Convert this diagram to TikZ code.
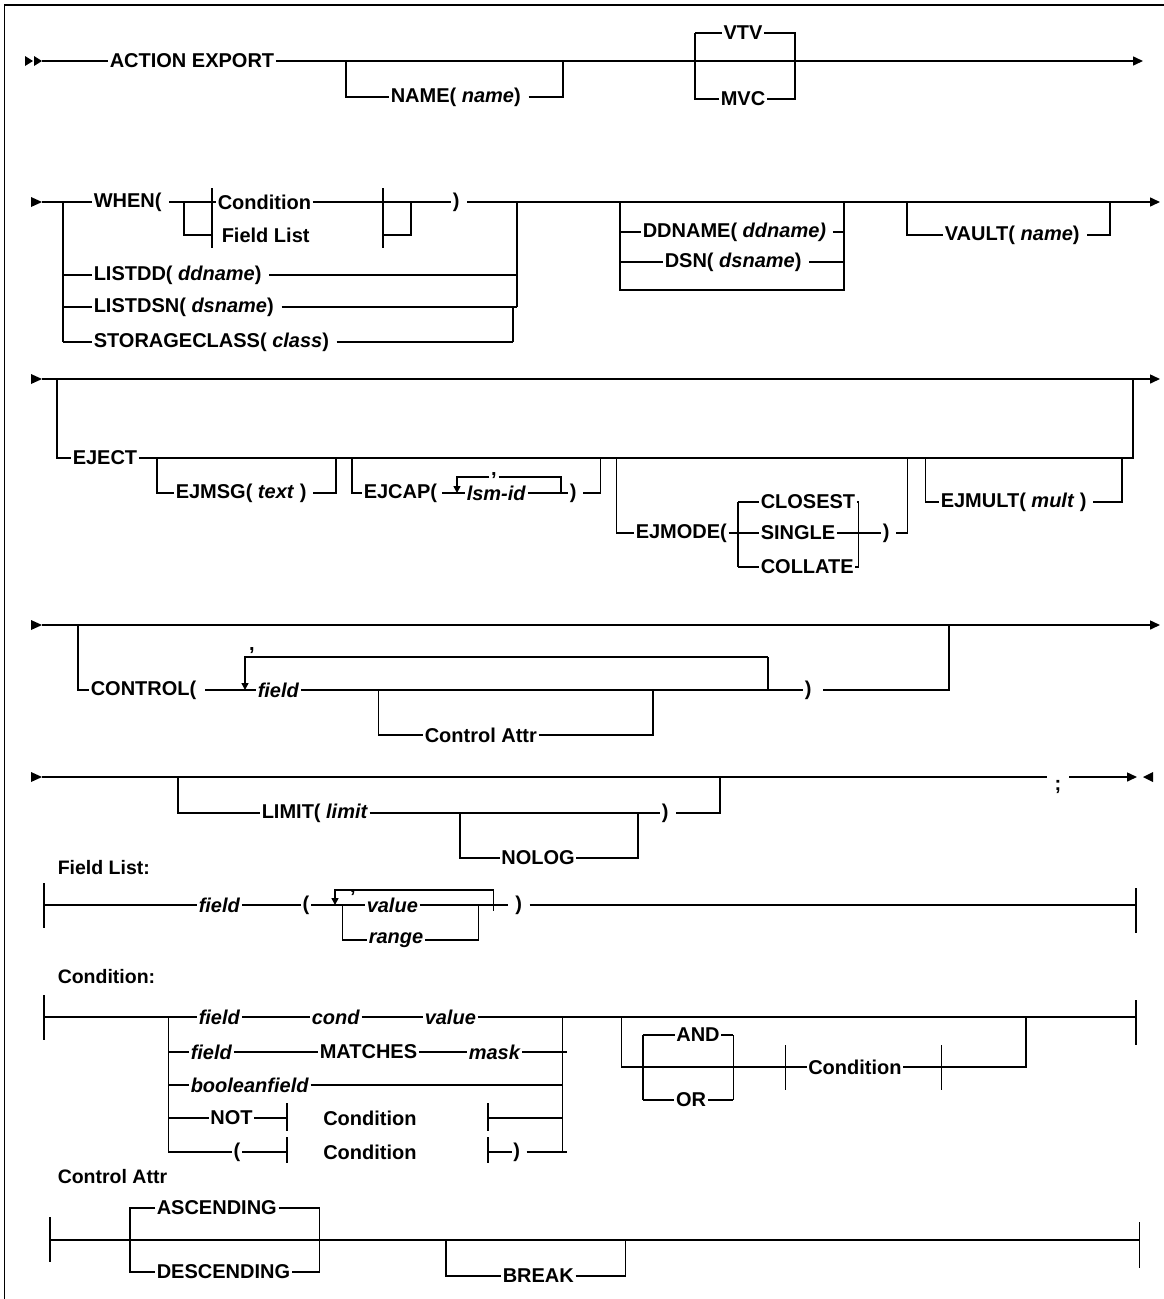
\documentclass[tikz,border=0pt]{standalone}
\usepackage{fontspec}
\setmainfont{Liberation Sans}
\usetikzlibrary{arrows.meta}
\newcommand\kwf{\fontsize{20}{23}\selectfont\bfseries}
\newcommand\labf{\fontsize{19.5}{23}\selectfont\bfseries}
\begin{document}
\begin{tikzpicture}[x=1pt,y=-1pt,line width=1.5pt,
  kw/.style={font=\kwf,inner xsep=1pt,inner ysep=0pt},
  kww/.style={kw,anchor=west},
  lab/.style={font=\labf,anchor=west,inner sep=0pt},
  tip/.style={-{Triangle[length=10pt,width=9pt]}},
  dtip/.style={-{Triangle[length=7pt,width=7pt]}}]
\useasboundingbox (0,0) rectangle (1164,1299);
\draw (4.6,1299) -- (4.6,5) -- (1164,5);

% ---------- Row 1 ----------
\fill (25,56) -- (33,61) -- (25,66) -- cycle;
\fill (34,56) -- (42,61) -- (34,66) -- cycle;
\coordinate (s1) at (42,61);
\coordinate (e1) at (1143,61);
\node[kww] (ae) at (108,61) {ACTION EXPORT};
\draw (s1) -- (ae.west);
\draw[tip] (ae.east) -- (e1);
\coordinate (n1) at (346,61); \coordinate (n2) at (563,61);
\node[kww] (nm) at (389,97) {NAME( \textit{name})};
\draw (n1) |- (nm.west);
\draw ([xshift=6pt]nm.east) -| (n2);
\coordinate (v1) at (695,33); \coordinate (v2) at (795,33);
\coordinate (v3) at (695,99); \coordinate (v4) at (795,99);
\node[kw] (vtv) at (743,33) {VTV};
\node[kw] (mvc) at (743,99) {MVC};
\draw (v1) -- (vtv.west) (vtv.east) -- (v2) -- (v4) -- (mvc.east) (mvc.west) -- (v3) -- (v1);

% ---------- Row 2 ----------
\fill (31,197) -- (42,202) -- (31,207) -- cycle;
\coordinate (s2) at (42,202);
\coordinate (e2) at (1160,202);
\node[kww] (when) at (92,202) {WHEN(};
\draw (s2) -- (when.west);
\coordinate (w1) at (63,202); \coordinate (w4) at (63,342);
\draw (w1) -- (w4);
\coordinate (c1) at (184,202); \coordinate (c2) at (184,235);
\coordinate (c3) at (411,202); \coordinate (c4) at (411,235);
\coordinate (b1t) at (212,188); \coordinate (b1b) at (212,248);
\coordinate (b2t) at (383,188); \coordinate (b2b) at (383,248);
\draw (b1t) -- (b1b); \draw (b2t) -- (b2b);
\node[kww] (cnd) at (216,202) {Condition};
\node[kww] (fls) at (220,235) {Field List};
\draw ([xshift=6pt]when.east) -- (cnd.west);
\draw (c1) -- (c2) -- (b1b |- c2);
\draw (cnd.east) -- (c3);
\draw (b2b |- c4) -- (c4) -- (c3);
\node[kww] (rp2) at (451,202) {)};
\draw (c3) -- (rp2.west);
\draw[tip] ([xshift=6pt]rp2.east) -- (e2);
\coordinate (g1) at (517,202); \coordinate (g2) at (517,307);
\coordinate (g3) at (513,307); \coordinate (g4) at (513,342);
\draw (g1) -- (g2); \draw (g3) -- (g4);
\node[kww] (ldd) at (92,275) {LISTDD( \textit{ddname})};
\draw (w1 |- ldd) -- (ldd.west);
\draw ([xshift=6pt]ldd.east) -- (g1 |- ldd);
\node[kww] (lds) at (92,307) {LISTDSN( \textit{dsname})};
\draw (w1 |- lds) -- (lds.west);
\draw ([xshift=6pt]lds.east) -- (g2);
\node[kww] (stc) at (92,342) {STORAGECLASS( \textit{class})};
\draw (w4) -- (stc.west);
\draw ([xshift=6pt]stc.east) -- (g4);
% DDNAME / DSN
\coordinate (d1) at (620,202); \coordinate (d2) at (844,202);
\coordinate (d3) at (620,290); \coordinate (d4) at (844,290);
\node[kww] (ddn) at (641,232) {DDNAME( \textit{ddname)}};
\node[kww] (dsn) at (663,262) {DSN( \textit{dsname})};
\draw (d1) -- (d3) -- (d4) -- (d2);
\draw (d1 |- ddn) -- (ddn.west);
\draw ([xshift=5pt]ddn.east) -- (d2 |- ddn);
\draw (d1 |- dsn) -- (dsn.west);
\draw ([xshift=6pt]dsn.east) -- (d2 |- dsn);
% VAULT
\coordinate (va1) at (907,202); \coordinate (va2) at (1110,202);
\node[kww] (vlt) at (943,235) {VAULT( \textit{name})};
\draw (va1) |- (vlt.west);
\draw ([xshift=6pt]vlt.east) -| (va2);

% ---------- Row 3 ----------
\fill (31,374) -- (42,379) -- (31,384) -- cycle;
\coordinate (s3) at (42,379);
\coordinate (e3) at (1160,379);
\draw[tip] (s3) -- (e3);
\coordinate (j1) at (57,379); \coordinate (j2) at (1133,379);
\node[kww] (ej) at (71,458) {EJECT};
\draw (j1) |- (ej.west);
\draw (ej.east) -| (j2);
% EJMSG
\coordinate (m1) at (157,458); \coordinate (m2) at (336,458);
\node[kww] (ems) at (174,493) {EJMSG( \textit{text} )};
\draw (m1) |- (ems.west);
\draw ([xshift=5pt]ems.east) -| (m2);
% EJCAP
\coordinate (p1) at (352,458); \coordinate (p2) at (600.5,458);
\node[kww] (ecp) at (362,493) {EJCAP(};
\coordinate (q0) at (457,477); \coordinate (q1) at (457,493);
\coordinate (q2) at (561,477); \coordinate (q3) at (561,493);
\node[kww] (lsm) at (465,493) {\textit{lsm-id}};
\node[kw] (cm1) at (494,476) {,};
\draw (p1) |- (ecp.west);
\draw ([xshift=3pt]ecp.east) -- (lsm.west);
\draw[dtip] (cm1.west |- q0) -- (q0) -- (q1);
\draw (cm1.east |- q0) -- (q2) -- (q3);
\node[kww] (ecr) at (568,493) {)};
\draw (lsm.east) -- (ecr.west);
\draw ([xshift=5pt]ecr.east) -| (p2);
% EJMODE
\coordinate (o1) at (616.5,458); \coordinate (o2) at (907.7,458);
\node[kww] (emo) at (634,533) {EJMODE(};
\coordinate (k1) at (738,502); \coordinate (k2) at (738,567);
\coordinate (k3) at (858.6,502); \coordinate (k4) at (858.6,567);
\node[kww] (clo) at (759,502) {CLOSEST};
\node[kww] (sgl) at (759,533) {SINGLE};
\node[kww] (col) at (759,567) {COLLATE};
\draw (o1) |- (emo.west);
\draw (emo.east) -- (sgl.west);
\draw (k1) -- (k2);
\draw (k1) -- (clo.west);
\draw (k2) -- (col.west);
\draw (clo.east) -- (k3) -- (k4) -- (col.east);
\node[kww] (emr) at (881,533) {)};
\draw (sgl.east) -- (emr.west);
\draw ([xshift=5pt]emr.east) -| (o2);
% EJMULT
\coordinate (u1) at (925.6,458); \coordinate (u2) at (1121.8,458);
\node[kww] (emu) at (939,502) {EJMULT( \textit{mult} )};
\draw (u1) |- (emu.west);
\draw ([xshift=5pt]emu.east) -| (u2);

% ---------- Row 4 ----------
\fill (31,620) -- (42,625) -- (31,630) -- cycle;
\coordinate (s4) at (42,625);
\coordinate (e4) at (1160,625);
\draw[tip] (s4) -- (e4);
\coordinate (t1) at (78,625); \coordinate (t2) at (949,625);
\node[kww] (ctl) at (89,690) {CONTROL(};
\draw (t1) |- (ctl.west);
\coordinate (l1) at (245,657); \coordinate (l2) at (245,690);
\coordinate (l3) at (768,657); \coordinate (l4) at (768,690);
\node[kww] (fld) at (256,690) {\textit{field}};
\draw ([xshift=7pt]ctl.east) -- (fld.west);
\draw[dtip] (l3) -- (l1) -- (l2);
\draw (l3) -- (l4);
\node[kw] (cm2) at (252,651) {,};
\node[kww] (cr4) at (803,690) {)};
\draw (fld.east) -- (cr4.west);
\draw ([xshift=10pt]cr4.east) -| (t2);
\coordinate (a1) at (378.6,690); \coordinate (a2) at (653,690);
\node[kww] (cat) at (423,735) {Control Attr};
\draw (a1) |- (cat.west);
\draw (cat.east) -| (a2);

% ---------- Row 5 ----------
\fill (31,772) -- (42,777) -- (31,782) -- cycle;
\coordinate (s5) at (42,777);
\coordinate (e5) at (1137,777);
\node[kw] (semi) at (1058,787) {;};
\draw (s5) -- ([xshift=-6pt]semi.west |- s5);
\draw[tip] ([xshift=6pt]semi.east |- s5) -- (e5);
\fill (1153,772) -- (1143,777) -- (1153,782) -- cycle;
\coordinate (i1) at (178,777); \coordinate (i2) at (720,777);
\node[kww] (lim) at (260,813) {LIMIT( \textit{limit}};
\node[kww] (lr) at (660,813) {)};
\draw (i1) |- (lim.west);
\draw (lim.east) -- (lr.west);
\draw ([xshift=6pt]lr.east) -| (i2);
\coordinate (o5) at (460,813); \coordinate (o6) at (638,813);
\node[kw] (nlg) at (538,858) {NOLOG};
\draw (o5) |- (nlg.west);
\draw (nlg.east) -| (o6);

% ---------- Field List ----------
\node[lab] (lfl) at (57,868) {Field List:};
\draw (44,883) -- (44,928);
\draw (1136,888) -- (1136,933);
\coordinate (fl0) at (44,905); \coordinate (fl9) at (1136,905);
\node[kww] (ff) at (197,905) {\textit{field}};
\node[kw] (fp) at (306,905) {(};
\draw (fl0) -- (ff.west);
\draw (ff.east) -- (fp.west);
\coordinate (fq0) at (335,890); \coordinate (fq1) at (335,905);
\coordinate (fq2) at (493.7,890); \coordinate (fq3) at (493.7,911);
\coordinate (fv1) at (342.5,905); \coordinate (fv2) at (342.5,940);
\coordinate (fv3) at (478.4,905); \coordinate (fv4) at (478.4,940);
\node[kww] (val) at (365,905) {\textit{value}};
\node[kww] (rng) at (367,940) {\textit{range}};
\node[kw] (cm3) at (353,893) {,};
\draw (fp.east) -- (val.west);
\draw[dtip] (fq2) -- (fq0) -- (fq1);
\draw (fq2) -- (fq3);
\draw (fv1) -- (fv2) -- (rng.west);
\draw (val.east) -- (fv3) -- (fv4) -- (rng.east);
\node[kw] (fr) at (518.6,905) {)};
\draw (fv3) -- ([xshift=-6pt]fr.west);
\draw ([xshift=6pt]fr.east) -- (fl9);

% ---------- Condition ----------
\node[lab] (lcd) at (57,977) {Condition:};
\draw (44,995) -- (44,1040);
\draw (1136,1000) -- (1136,1045);
\coordinate (cd0) at (44,1017); \coordinate (cd9) at (1136,1017);
\coordinate (x1) at (168.4,1017); \coordinate (x2) at (168.4,1152);
\coordinate (y1) at (562.6,1017); \coordinate (y2) at (562.6,1152);
\draw (x1) -- (x2); \draw (y1) -- (y2);
\node[kww] (fa) at (197,1017) {\textit{field}};
\node[kww] (ca) at (310,1017) {\textit{cond}};
\node[kww] (va) at (423,1017) {\textit{value}};
\draw (cd0) -- (fa.west);
\draw (fa.east) -- (ca.west);
\draw (ca.east) -- (va.west);
\draw (va.east) -- (y1);
\node[kww] (fb) at (189,1052) {\textit{field}};
\node[kww] (mb) at (318,1052) {MATCHES};
\node[kww] (kb) at (467,1052) {\textit{mask}};
\draw (x1 |- fb) -- (fb.west);
\draw (fb.east) -- (mb.west);
\draw (mb.east) -- (kb.west);
\draw (kb.east) -- ([xshift=4pt]y1 |- kb);
\node[kww] (bf) at (189,1085) {\textit{booleanfield}};
\draw (x1 |- bf) -- (bf.west);
\draw (bf.east) -- (y1 |- bf);
\node[kww] (nt) at (208.6,1118) {NOT};
\node[kww] (nc) at (321.5,1118) {Condition};
\draw (287,1103) -- (287,1131);
\draw (488,1103) -- (488,1131);
\draw (x1 |- nt) -- (nt.west);
\draw (nt.east) -- (287,1118);
\draw (488,1118) -- (y1 |- nt);
\node[kw] (lp) at (237,1152) {(};
\node[kww] (pc) at (321.5,1152) {Condition};
\node[kw] (rp) at (516.6,1152) {)};
\draw (287,1137) -- (287,1163);
\draw (488,1137) -- (488,1163);
\draw (x2) -- (lp.west);
\draw (lp.east) -- (287,1152);
\draw (488,1152) -- (rp.west);
\draw ([xshift=5pt]rp.east) -- ([xshift=4pt]y2);
\draw (y1) -- (cd9);
\coordinate (z1) at (621.6,1017); \coordinate (z2) at (621.6,1067);
\coordinate (z3) at (1026,1067); \coordinate (z4) at (1026,1017);
\coordinate (w5) at (642.8,1035); \coordinate (w6) at (642.8,1100);
\coordinate (w7) at (733.3,1035); \coordinate (w8) at (733.3,1100);
\node[kw] (and) at (698,1035) {AND};
\node[kw] (or) at (691,1100) {OR};
\node[kww] (cc) at (806.5,1067) {Condition};
\draw (785.3,1045) -- (785.3,1090);
\draw (941.3,1045) -- (941.3,1090);
\draw (z1) -- (z2) -- (cc.west);
\draw (cc.east) -- (z3) -- (z4);
\draw (w5) -- (w6); \draw (w7) -- (w8);
\draw (w5) -- (and.west); \draw (and.east) -- (w7);
\draw (w6) -- (or.west); \draw (or.east) -- (w8);

% ---------- Control Attr ----------
\node[lab] (lca) at (57,1177) {Control Attr};
\draw (49.8,1217) -- (49.8,1262);
\draw (1139.7,1222) -- (1139.7,1268);
\coordinate (ca0) at (49.8,1240); \coordinate (ca9) at (1139.7,1240);
\draw (ca0) -- (ca9);
\coordinate (as1) at (130,1208); \coordinate (as2) at (130,1272);
\coordinate (as3) at (319.6,1208); \coordinate (as4) at (319.6,1272);
\node[kww] (asc) at (155,1208) {ASCENDING};
\node[kww] (dsc) at (155,1272) {DESCENDING};
\draw (asc.west) -- (as1) -- (as2) -- (dsc.west);
\draw (asc.east) -- (as3) -- (as4) -- (dsc.east);
\coordinate (bk1) at (445.8,1240); \coordinate (bk2) at (625.5,1240);
\node[kww] (brk) at (501,1276) {BREAK};
\draw (bk1) |- (brk.west);
\draw (brk.east) -| (bk2);
\end{tikzpicture}
\end{document}
